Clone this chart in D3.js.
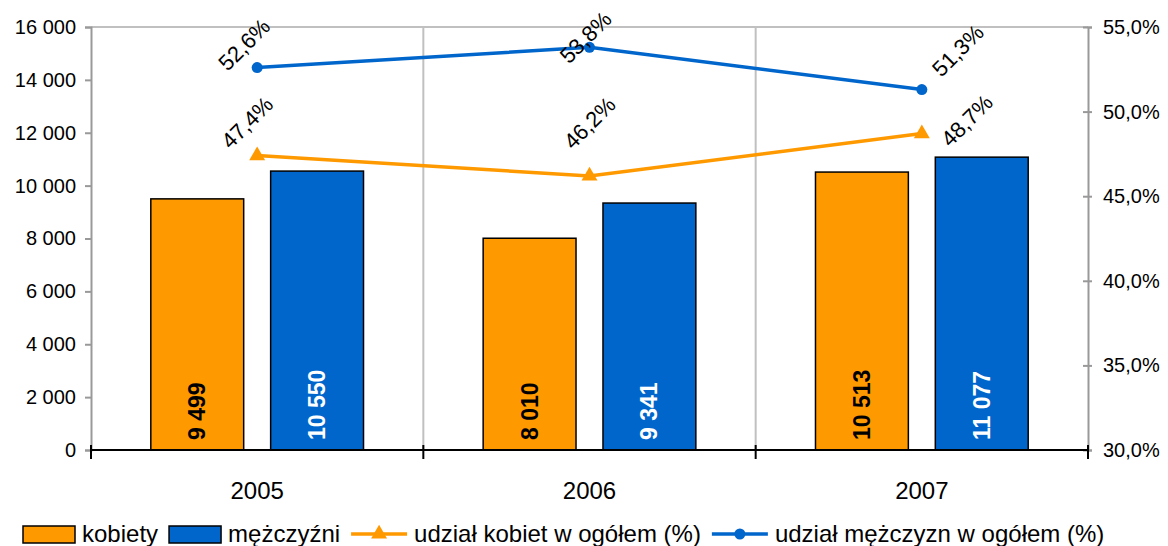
<!DOCTYPE html>
<html lang="pl">
<head>
<meta charset="UTF-8">
<title>Kobiety i mężczyźni 2005-2007</title>
<script src="https://cdn.jsdelivr.net/npm/d3@7"></script>
<style>
    body { margin: 0; background: #fff; }
    svg { font-family: "Liberation Sans", Arial, sans-serif; }
    .tick text { fill: #000; }
</style>
</head>
<body>
<svg id="chart"></svg>
<script>
// data
var years = ["2005", "2006", "2007"];
var kobiety = [9499, 8010, 10513];
var mezczyzni = [10550, 9341, 11077];
var udzialKobiet = [47.4, 46.2, 48.7];
var udzialMezczyzn = [52.6, 53.8, 51.3];
var leftTicks = [0, 2000, 4000, 6000, 8000, 10000, 12000, 14000, 16000];
var rightTicks = [30, 35, 40, 45, 50, 55];

var svgWidth = 1168, svgHeight = 546;
// note: "top" is taken by window.top, so plot edges get their own names
var plotL = 91, plotR = 1088, plotT = 27, plotB = 450;
var orange = "#FF9900", blue = "#0066CC";

// where the % labels sit relative to their point (Excel put them by hand)
var offKob = [[-10, -33], [0, -53], [45, -13]];
var offMez = [[-13, -23], [-4, -10], [36, -39]];

var svg = d3.select("#chart").attr("width", svgWidth).attr("height", svgHeight);

var x = d3.scaleBand().domain(years).range([plotL, plotR]);
var bw = x.bandwidth();
var xs = d3.scaleBand().domain(["k", "m"])
    .range([bw * 0.18, bw * 0.82]).paddingInner(0.225);
var yL = d3.scaleLinear().domain([0, 16000]).range([plotB, plotT]);
var yR = d3.scaleLinear().domain([30, 55]).range([plotB, plotT]);

var pl = d3.formatLocale({decimal: ",", thousands: " ", grouping: [3], currency: ["", ""]});
var fmtNum = pl.format(",d");
var fmtPct = function(d) { return pl.format(".1f")(d) + "%"; };

// grid: top border and category separators
svg.append("line")
    .attr("x1", plotL).attr("x2", plotR).attr("y1", plotT).attr("y2", plotT)
    .attr("stroke", "#c0c0c0").attr("stroke-width", 2);
svg.selectAll("line.vgrid")
    .data(years.slice(1))
    .enter().append("line")
    .attr("class", "vgrid")
    .attr("x1", function(d) { return x(d); })
    .attr("x2", function(d) { return x(d); })
    .attr("y1", plotT).attr("y2", plotB)
    .attr("stroke", "#c0c0c0").attr("stroke-width", 2);

// left axis
var axL = svg.append("g")
    .attr("transform", "translate(" + plotL + ",0)")
    .call(d3.axisLeft(yL).tickValues(leftTicks).tickFormat(fmtNum).tickSizeOuter(0).tickSize(6).tickPadding(9));
axL.selectAll("line, path").attr("stroke", "#999").attr("stroke-width", 2);
axL.selectAll("text").attr("font-size", "20px").attr("font-family", "Liberation Sans, Arial");

// right axis
var axR = svg.append("g")
    .attr("transform", "translate(" + plotR + ",0)")
    .call(d3.axisRight(yR).tickValues(rightTicks).tickFormat(fmtPct).tickSizeOuter(0).tickSize(4).tickPadding(11));
axR.selectAll("line, path").attr("stroke", "#999").attr("stroke-width", 2);
axR.selectAll(".tick line").attr("x1", -5);
axR.selectAll("text").attr("font-size", "20px").attr("font-family", "Liberation Sans, Arial");

// bars
var series = [
    {key: "k", values: kobiety, fill: orange, text: "#000"},
    {key: "m", values: mezczyzni, fill: blue, text: "#fff"}
];
series.forEach(function(s) {
    var g = svg.append("g");
    g.selectAll("rect")
        .data(s.values)
        .enter().append("rect")
        .attr("x", function(d, i) { return x(years[i]) + xs(s.key); })
        .attr("y", function(d) { return yL(d); })
        .attr("width", xs.bandwidth())
        .attr("height", function(d) { return yL(0) - yL(d); })
        .attr("fill", s.fill)
        .attr("stroke", "#000")
        .attr("stroke-width", 1.5);
    g.selectAll("text")
        .data(s.values)
        .enter().append("text")
        .attr("transform", function(d, i) {
            var cx = x(years[i]) + xs(s.key) + xs.bandwidth() / 2;
            return "translate(" + (cx + 8) + "," + (yL(0) - 10) + ") rotate(-90)";
        })
        .attr("font-size", "23px")
        .attr("font-weight", "bold")
        .attr("fill", s.text)
        .text(function(d) { return fmtNum(d); });
});

// bottom axis
var axB = svg.append("g").attr("transform", "translate(0," + plotB + ")");
axB.append("line").attr("x1", plotL).attr("x2", plotR).attr("stroke", "#000").attr("stroke-width", 2);
axB.selectAll("line.tk")
    .data(years.concat(["end"]))
    .enter().append("line")
    .attr("x1", function(d) { return d === "end" ? plotR : x(d); })
    .attr("x2", function(d) { return d === "end" ? plotR : x(d); })
    .attr("y1", -5).attr("y2", 9)
    .attr("stroke", "#000").attr("stroke-width", 2);
axB.selectAll("text")
    .data(years)
    .enter().append("text")
    .attr("x", function(d) { return x(d) + bw / 2; })
    .attr("y", 49)
    .attr("text-anchor", "middle")
    .attr("font-size", "24px")
    .text(function(d) { return d; });

// lines with markers
var lineGen = d3.line()
    .x(function(d, i) { return x(years[i]) + bw / 2; })
    .y(function(d) { return yR(d); });

function drawLine(vals, color, marker, offs) {
    svg.append("path")
        .datum(vals)
        .attr("d", lineGen)
        .attr("fill", "none")
        .attr("stroke", color)
        .attr("stroke-width", 3.5);
    var sym = d3.symbol().type(marker === "tri" ? d3.symbolTriangle : d3.symbolCircle)
        .size(marker === "tri" ? 110 : 95);
    svg.selectAll(null)
        .data(vals)
        .enter().append("path")
        .attr("d", sym)
        .attr("transform", function(d, i) {
            return "translate(" + (x(years[i]) + bw / 2) + "," + yR(d) + ")";
        })
        .attr("fill", color);
    svg.selectAll(null)
        .data(vals)
        .enter().append("text")
        .attr("transform", function(d, i) {
            var px = x(years[i]) + bw / 2 + offs[i][0];
            var py = yR(d) + offs[i][1];
            return "translate(" + px + "," + py + ") rotate(-45)";
        })
        .attr("text-anchor", "middle")
        .attr("dy", "0.35em")
        .attr("font-size", "22px")
        .text(function(d) { return fmtPct(d); });
}
drawLine(udzialKobiet, orange, "tri", offKob);
drawLine(udzialMezczyzn, blue, "circle", offMez);

// legend
var legend = [
    {label: "kobiety", color: orange, type: "bar"},
    {label: "mężczyźni", color: blue, type: "bar"},
    {label: "udział kobiet w ogółem (%)", color: orange, type: "tri"},
    {label: "udział mężczyzn w ogółem (%)", color: blue, type: "circle"}
];
var lg = svg.append("g").attr("transform", "translate(23,534)");
var lx = 0;
legend.forEach(function(l) {
    var item = lg.append("g").attr("transform", "translate(" + lx + ",0)");
    var sw;
    if (l.type === "bar") {
        sw = 52;
        item.append("rect")
            .attr("x", 0).attr("y", -8).attr("width", sw).attr("height", 17)
            .attr("fill", l.color).attr("stroke", "#000").attr("stroke-width", 1.5);
    } else {
        sw = 56;
        item.append("line").attr("x1", 0).attr("x2", sw).attr("y1", 0).attr("y2", 0)
            .attr("stroke", l.color).attr("stroke-width", 3.5);
        item.append("path")
            .attr("d", d3.symbol().type(l.type === "tri" ? d3.symbolTriangle : d3.symbolCircle)
                .size(l.type === "tri" ? 110 : 95))
            .attr("transform", "translate(" + sw / 2 + ",0)")
            .attr("fill", l.color);
    }
    var t = item.append("text")
        .attr("x", sw + 7).attr("y", 8)
        .attr("font-size", "24px")
        .text(l.label);
    lx += sw + 7 + t.node().getComputedTextLength() + 11;
});
</script>
</body>
</html>
